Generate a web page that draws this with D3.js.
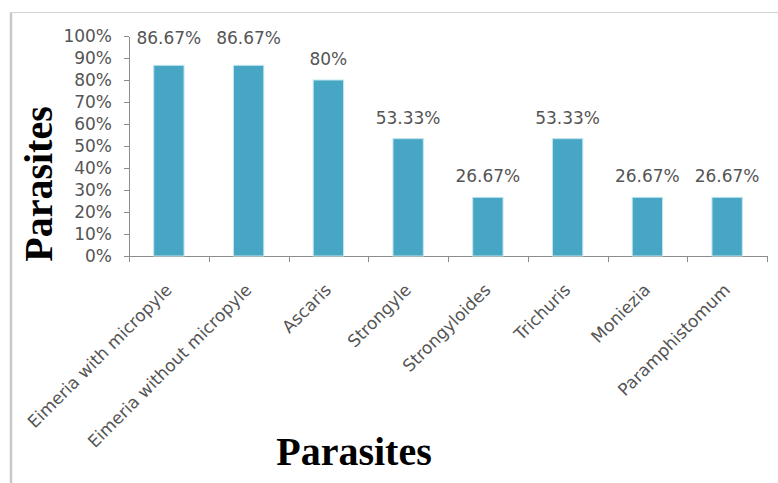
<!DOCTYPE html>
<html>
<head>
<meta charset="utf-8">
<script src="https://cdnjs.cloudflare.com/ajax/libs/d3/7.8.5/d3.min.js"></script>
<style>
  body { margin: 0; background: #fff; }
  svg { display: block; }
  .axis path, .axis line { stroke: #8c8c8c; shape-rendering: crispEdges; }
  .axis text { font-family: "DejaVu Sans", sans-serif; font-size: 17px; fill: #555; }
  .val-label, .cat-label { font-family: "DejaVu Sans", sans-serif; font-size: 17px; fill: #555; }
  .title { font-family: "Liberation Serif", "Times New Roman", serif; font-weight: bold; font-size: 40px; fill: #000; }
</style>
</head>
<body>
<script>
// data
var parasites = ["Eimeria with micropyle", "Eimeria without micropyle", "Ascaris", "Strongyle",
                 "Strongyloides", "Trichuris", "Moniezia", "Paramphistomum"];
var prevalence = [86.67, 86.67, 80, 53.33, 26.67, 53.33, 26.67, 26.67];
var valueLabels = ["86.67%", "86.67%", "80%", "53.33%", "26.67%", "53.33%", "26.67%", "26.67%"];
var yTicks = [0, 10, 20, 30, 40, 50, 60, 70, 80, 90, 100];

var width = 778, height = 483;
var plot = { left: 129, right: 767, top: 36, bottom: 256 };

var svg = d3.select("body").append("svg")
    .attr("width", width)
    .attr("height", height);

// outer frame (left and top edges only visible)
svg.append("line").attr("x1", 11).attr("x2", 11).attr("y1", 12).attr("y2", height)
    .attr("stroke", "#c8c8c8").attr("stroke-width", 2.5);
svg.append("line").attr("x1", 10).attr("x2", width).attr("y1", 12.5).attr("y2", 12.5)
    .attr("stroke", "#d4d4d4").attr("stroke-width", 1);

var x = d3.scaleBand().domain(parasites)
    .range([plot.left, plot.right])
    .paddingInner(0.62).paddingOuter(0.31);

var y = d3.scaleLinear().domain([0, 100]).range([plot.bottom, plot.top]);

// category boundary ticks on x axis
var xEdges = d3.scaleLinear().domain([0, parasites.length]).range([plot.left, plot.right]);

svg.append("g").attr("class", "axis")
    .attr("transform", "translate(0," + plot.bottom + ")")
    .call(d3.axisBottom(xEdges).tickValues(d3.range(parasites.length + 1)).tickFormat("").tickSizeOuter(0).tickSize(6));

svg.append("g").attr("class", "axis")
    .attr("transform", "translate(" + plot.left + ",0)")
    .call(d3.axisLeft(y).tickValues(yTicks).tickFormat(function(d) { return d + "%"; })
        .tickSize(5).tickSizeOuter(0).tickPadding(12));

// bars
svg.selectAll(".bar").data(prevalence).enter().append("rect")
    .attr("class", "bar")
    .attr("x", function(d, i) { return x(parasites[i]); })
    .attr("y", function(d) { return y(d); })
    .attr("width", x.bandwidth())
    .attr("height", function(d) { return y(0) - y(d); })
    .attr("fill", "#46a6c4")
    .attr("stroke", "#bfe5ef")
    .attr("stroke-width", 1);

// value labels
svg.selectAll(".val-label").data(prevalence).enter().append("text")
    .attr("class", "val-label")
    .attr("text-anchor", "middle")
    .attr("x", function(d, i) { return x(parasites[i]) + x.bandwidth() / 2; })
    .attr("y", function(d) { return y(d) - (d > 85 ? 21 : 15); })
    .text(function(d, i) { return valueLabels[i]; });

// rotated category labels
svg.selectAll(".cat-label").data(parasites).enter().append("text")
    .attr("class", "cat-label")
    .attr("text-anchor", "end")
    .attr("transform", function(d) {
        return "translate(" + (x(d) + x.bandwidth() / 2 + 4) + "," + (plot.bottom + 35) + ") rotate(-45)";
    })
    .text(function(d) { return d; });

// axis titles
svg.append("text").attr("class", "title")
    .attr("text-anchor", "middle")
    .attr("transform", "translate(52,184) rotate(-90)")
    .text("Parasites");

svg.append("text").attr("class", "title")
    .attr("text-anchor", "middle")
    .attr("x", 354).attr("y", 465)
    .text("Parasites");
</script>
</body>
</html>
